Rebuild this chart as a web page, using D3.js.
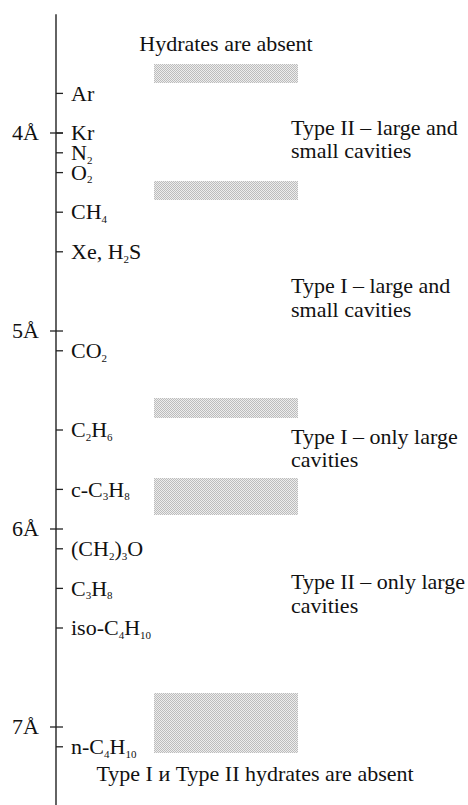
<!DOCTYPE html>
<html>
<head>
<meta charset="utf-8">
<script src="https://cdn.jsdelivr.net/npm/d3@7"></script>
<style>
  html, body { margin: 0; padding: 0; background: #fff; }
  svg { display: block; font-family: "Liberation Serif", "Times New Roman", serif; }
</style>
</head>
<body>
<svg id="chart" width="468" height="805"></svg>
<script>
// ---- data ----
const majorTicks = [4, 5, 6, 7];
const compoundLabels = ["Ar", "Kr", "N_2", "O_2", "CH_4", "Xe, H_2S", "CO_2", "C_2H_6", "c-C_3H_8", "(CH_2)_3O", "C_3H_8", "iso-C_4H_{10}", "n-C_4H_{10}"];
const compoundSizes = [3.8, 4.0, 4.1, 4.2, 4.4, 4.6, 5.1, 5.5, 5.8, 6.1, 6.3, 6.5, 7.1];
const bandStarts = [3.65, 4.24, 5.34, 5.74, 6.83];
const bandEnds = [3.75, 4.34, 5.44, 5.93, 7.13];
const regionTexts = [
  ["Hydrates are absent"],
  ["Type II \u2013 large and", "small cavities"],
  ["Type I \u2013 large and", "small cavities"],
  ["Type I \u2013 only large", "cavities"],
  ["Type II \u2013 only large", "cavities"],
  ["Type I \u0438 Type II hydrates are absent"]
];
const regionSizes = [3.586, 4.01, 4.81, 5.57, 6.305, 7.272];
const axisExtent = [3.4, 7.4];

// ---- layout ----
const svg = d3.select("#chart");
const axisX = 56;
const fontSize = 22;
const subSize = 11;
const y = d3.scaleLinear().domain([4, 7]).range([133, 727]);
const bandX = d3.scaleLinear().domain([0, 1]).range([154, 298]);

// pattern for shaded bands
const defs = svg.append("defs");
const pat = defs.append("pattern")
  .attr("id", "stipple").attr("patternUnits", "userSpaceOnUse")
  .attr("width", 2).attr("height", 2);
pat.append("rect").attr("width", 2).attr("height", 2).attr("fill", "#ededed");
pat.append("rect").attr("x", 0).attr("y", 0).attr("width", 1).attr("height", 1)
  .attr("fill", "#bcbcbc").attr("shape-rendering", "crispEdges");
pat.append("rect").attr("x", 1).attr("y", 1).attr("width", 1).attr("height", 1)
  .attr("fill", "#bcbcbc").attr("shape-rendering", "crispEdges");

// bands
svg.append("g").selectAll("rect")
  .data(bandStarts.map((s, i) => [s, bandEnds[i]]))
  .join("rect")
  .attr("x", bandX(0))
  .attr("width", bandX(1) - bandX(0))
  .attr("y", d => Math.round(y(d[0])))
  .attr("height", d => Math.round(y(d[1])) - Math.round(y(d[0])))
  .attr("shape-rendering", "crispEdges")
  .attr("fill", "url(#stipple)");

// axis line
svg.append("line")
  .attr("x1", axisX).attr("x2", axisX)
  .attr("y1", y(axisExtent[0])).attr("y2", y(axisExtent[1]))
  .attr("stroke", "#222").attr("stroke-width", 1.4);

// major ticks
const major = svg.append("g").selectAll("g").data(majorTicks).join("g")
  .attr("transform", d => `translate(0,${y(d)})`);
major.append("line").attr("x1", axisX - 6).attr("x2", axisX + 7)
  .attr("stroke", "#222").attr("stroke-width", 1.3);
major.append("text")
  .attr("x", 39).attr("dy", "0.33em")
  .attr("text-anchor", "end")
  .attr("font-size", fontSize).attr("fill", "#111")
  .text(d => d + "\u00C5");

// compound ticks and labels
function addLabel(sel, s) {
  const re = /_\{([^}]*)\}|_(.)|([^_]+)/g;
  let m, sub = false;
  while ((m = re.exec(s)) !== null) {
    if (m[3] !== undefined) {
      sel.append("tspan").attr("font-size", fontSize)
        .attr("dy", sub ? -3.5 : null).text(m[3]);
      sub = false;
    } else {
      const t = m[1] !== undefined ? m[1] : m[2];
      sel.append("tspan").attr("font-size", subSize)
        .attr("dy", sub ? null : 3.5).text(t);
      sub = true;
    }
  }
}
const comp = svg.append("g").selectAll("g")
  .data(compoundSizes.map((v, i) => ({ v, label: compoundLabels[i] })))
  .join("g")
  .attr("transform", d => `translate(0,${y(d.v)})`);
comp.append("line").attr("x1", axisX).attr("x2", axisX + 7)
  .attr("stroke", "#222").attr("stroke-width", 1.3);
comp.append("text")
  .attr("x", 71).attr("y", 0).attr("dy", "0.33em")
  .attr("font-size", fontSize).attr("fill", "#111")
  .each(function (d) { addLabel(d3.select(this), d.label); });

// region annotations
const regionX = [bandX(0.5), 291, 291, 291, 291, 255];
const regionAnchor = ["middle", "start", "start", "start", "start", "middle"];
const regions = svg.append("g").selectAll("text")
  .data(regionTexts.map((lines, i) => ({ lines, v: regionSizes[i], x: regionX[i], a: regionAnchor[i] })))
  .join("text")
  .attr("x", d => d.x)
  .attr("y", d => y(d.v))
  .attr("text-anchor", d => d.a)
  .attr("font-size", fontSize).attr("fill", "#111");
regions.each(function (d) {
  d3.select(this).selectAll("tspan").data(d.lines).join("tspan")
    .attr("x", d.x)
    .attr("dy", (t, i) => i === 0 ? 0 : 23.5)
    .text(t => t);
});
</script>
</body>
</html>
